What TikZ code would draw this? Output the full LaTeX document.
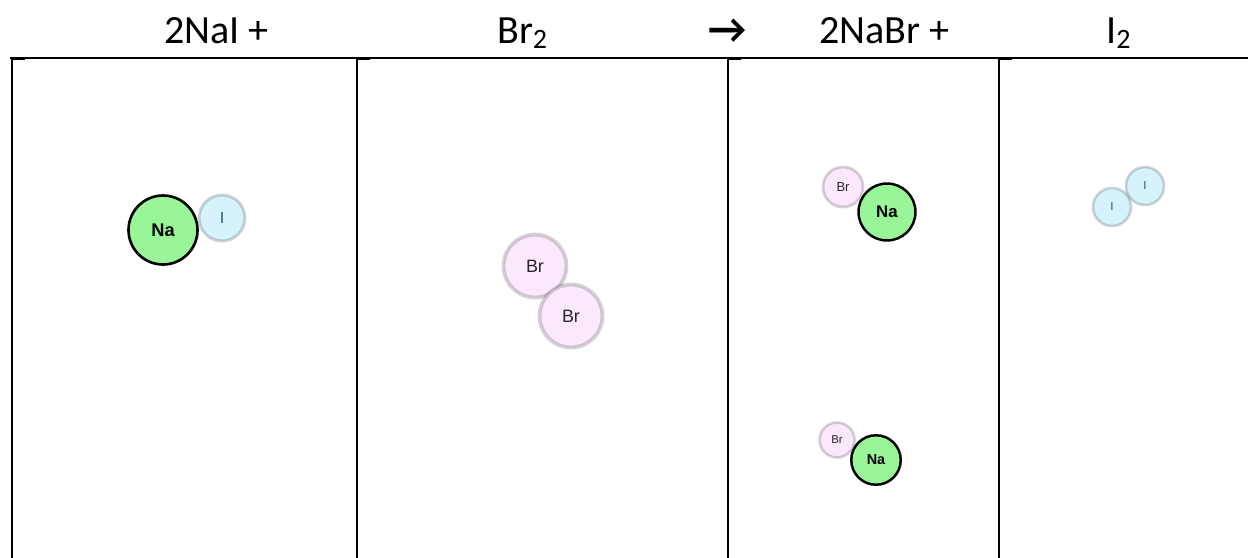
\documentclass[tikz,border=0pt]{standalone}
\usepackage{fontspec}
\setmainfont{Carlito}
\newfontfamily\atomfont{Liberation Sans}
\definecolor{nagreen}{RGB}{152,245,152}
\definecolor{iblue}{RGB}{214,243,252}
\definecolor{brpink}{RGB}{252,232,252}
\definecolor{iteal}{RGB}{26,90,120}
\tikzset{
  halo/.style={circle,draw=black,draw opacity=0.17,line width=1.7pt,inner sep=0pt},
  na/.style 2 args={circle,draw=black,line width=1.5pt,fill=nagreen,inner sep=0pt,
    minimum size=#1,font=\atomfont\bfseries\fontsize{#2}{#2}\selectfont},
  br/.style 2 args={halo,fill=brpink,text=black!85,
    minimum size=#1,font=\atomfont\fontsize{#2}{#2}\selectfont},
  io/.style 2 args={halo,fill=iblue,text=iteal,
    minimum size=#1,font=\atomfont\fontsize{#2}{#2}\selectfont},
  eqn/.style={anchor=base west,font=\fontsize{22.8}{27}\selectfont}
}
\begin{document}
\begin{tikzpicture}[x=0.02cm,y=-0.02cm]
    \useasboundingbox (0,0) rectangle (1248,558);
    \draw[line width=1pt] (10,58) -- (1248,58);
    \foreach \x in {12,357,728,999}
    \draw[shift={(\x,0)},line width=1pt] (0,58) -- (0,558) (0,59.5) -- (13,59.5);
    \node[eqn] (lhsa) at (158,43) {2NaI +};
    \node[eqn] (lhsb) at (491,43) {Br\textsubscript{2}};
    \node[eqn,font=\bfseries\fontsize{24}{27}\selectfont] (yields) at (702,43) {→};
    \node[eqn] (rhsa) at (813,43) {2NaBr +};
    \node[eqn] (rhsb) at (1100,43) {I\textsubscript{2}};
    \node[io={0.92cm}{9.2}] (iodA) at (222,218) {I};
    \node[na={1.38cm}{10.4}] (sodA) at (163,230) {Na};
    \node[br={1.26cm}{10.2},line width=2.2pt] (bromA) at (535,266) {Br};
    \node[br={1.26cm}{10.2},line width=2.2pt] (bromB) at (571,316) {Br};
    \node[br={0.80cm}{7.4},line width=1.6pt] (bromC) at (843,187) {Br};
    \node[na={1.14cm}{9.6},line width=1.4pt] (sodC) at (887,212) {Na};
    \node[br={0.70cm}{6.5},line width=1.5pt] (bromD) at (837,440) {Br};
    \node[na={0.99cm}{8.2},line width=1.4pt] (sodD) at (876,460) {Na};
    \node[io={0.76cm}{6.6},line width=1.5pt] (iodB) at (1112,207) {I};
    \node[io={0.76cm}{6.6},line width=1.5pt] (iodC) at (1145,186) {I};
\end{tikzpicture}
\end{document}
